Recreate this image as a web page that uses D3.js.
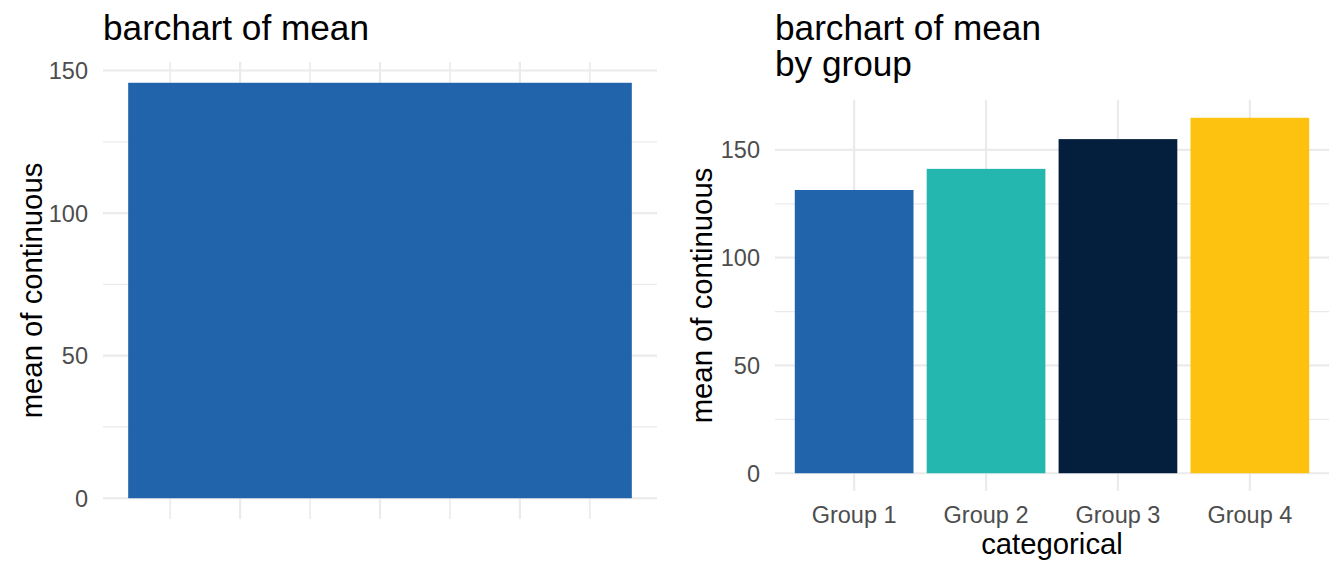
<!DOCTYPE html>
<html>
<head>
<meta charset="utf-8">
<script src="https://cdn.jsdelivr.net/npm/d3@7"></script>
<style>
  html, body { margin: 0; padding: 0; background: #ffffff; }
  svg { display: block; font-family: "Liberation Sans", Arial, Helvetica, sans-serif; }
</style>
</head>
<body>
<svg id="chart" width="1344" height="576"></svg>
<script>
// ---- data ----
const overallMean = [145.7];
const categories = ["Group 1", "Group 2", "Group 3", "Group 4"];
const groupMeans = [131.4, 141.2, 155.0, 164.9];
const groupColors = ["#2264AC", "#24B7AF", "#041F3D", "#FDC10F"];
const overallColor = "#2264AC";
const yTicks = [0, 50, 100, 150];
const yMinorTicks = [25, 75, 125];
const leftXMajor = [-0.25, 0, 0.25];
const leftXMinor = [-0.375, -0.125, 0.125, 0.375];

const svg = d3.select("#chart");
const gridCol = "#EBEBEB";
const tickCol = "#4D4D4D";

function expandDomain(lo, hi) {
  const r = hi - lo;
  return [lo - 0.05 * r, hi + 0.05 * r];
}

// ---------- LEFT PANEL ----------
{
  const L = 103, R = 657, T = 62, B = 519;
  const x = d3.scaleLinear().domain(expandDomain(-0.45, 0.45)).range([L, R]);
  const y = d3.scaleLinear().domain(expandDomain(0, overallMean[0])).range([B, T]);
  const g = svg.append("g");

  // minor grid
  g.selectAll("line.hmin").data(yMinorTicks).join("line")
    .attr("x1", L).attr("x2", R).attr("y1", d => y(d)).attr("y2", d => y(d))
    .attr("stroke", gridCol).attr("stroke-width", 1.2);
  g.selectAll("line.vmin").data(leftXMinor).join("line")
    .attr("y1", T).attr("y2", B).attr("x1", d => x(d)).attr("x2", d => x(d))
    .attr("stroke", gridCol).attr("stroke-width", 1.6);
  // major grid
  g.selectAll("line.hmaj").data(yTicks).join("line")
    .attr("x1", L).attr("x2", R).attr("y1", d => y(d)).attr("y2", d => y(d))
    .attr("stroke", gridCol).attr("stroke-width", 2.2);
  g.selectAll("line.vmaj").data(leftXMajor).join("line")
    .attr("y1", T).attr("y2", B).attr("x1", d => x(d)).attr("x2", d => x(d))
    .attr("stroke", gridCol).attr("stroke-width", 2.2);

  // bar
  g.selectAll("rect.bar").data(overallMean).join("rect")
    .attr("x", x(-0.45)).attr("width", x(0.45) - x(-0.45))
    .attr("y", d => y(d)).attr("height", d => y(0) - y(d))
    .attr("fill", overallColor);

  // y tick labels
  g.selectAll("text.yt").data(yTicks).join("text")
    .attr("x", L - 15).attr("y", d => y(d)).attr("dy", "0.36em")
    .attr("text-anchor", "end").attr("fill", tickCol)
    .style("font-size", "23.5px").text(d => d);

  // y axis title
  g.append("text")
    .attr("transform", `translate(42,${(T + B) / 2}) rotate(-90)`)
    .attr("text-anchor", "middle").attr("fill", "#000")
    .style("font-size", "29.3px").text("mean of continuous");

  // title
  g.append("text").attr("x", L).attr("y", 40)
    .attr("fill", "#000").style("font-size", "35.2px").text("barchart of mean");
}

// ---------- RIGHT PANEL ----------
{
  const L = 775, R = 1329, T = 100, B = 491;
  const n = categories.length;
  const xc = d3.scaleLinear().domain([0.4, n + 0.6]).range([L, R]);
  const x = d3.scaleBand().domain(categories).range([xc(0.5), xc(n + 0.5)]).paddingInner(0.1).paddingOuter(0.05);
  const y = d3.scaleLinear().domain(expandDomain(0, d3.max(groupMeans))).range([B, T]);
  const g = svg.append("g");

  g.selectAll("line.hmin").data(yMinorTicks).join("line")
    .attr("x1", L).attr("x2", R).attr("y1", d => y(d)).attr("y2", d => y(d))
    .attr("stroke", gridCol).attr("stroke-width", 1.2);
  g.selectAll("line.hmaj").data(yTicks).join("line")
    .attr("x1", L).attr("x2", R).attr("y1", d => y(d)).attr("y2", d => y(d))
    .attr("stroke", gridCol).attr("stroke-width", 2.2);
  g.selectAll("line.vmaj").data(categories).join("line")
    .attr("y1", T).attr("y2", B)
    .attr("x1", d => x(d) + x.bandwidth() / 2).attr("x2", d => x(d) + x.bandwidth() / 2)
    .attr("stroke", gridCol).attr("stroke-width", 2.2);

  const data = categories.map((c, i) => ({ c, v: groupMeans[i], col: groupColors[i] }));
  g.selectAll("rect.bar").data(data).join("rect")
    .attr("x", d => x(d.c)).attr("width", x.bandwidth())
    .attr("y", d => y(d.v)).attr("height", d => y(0) - y(d.v))
    .attr("fill", d => d.col);

  g.selectAll("text.yt").data(yTicks).join("text")
    .attr("x", L - 15).attr("y", d => y(d)).attr("dy", "0.36em")
    .attr("text-anchor", "end").attr("fill", tickCol)
    .style("font-size", "23.5px").text(d => d);

  g.selectAll("text.xt").data(categories).join("text")
    .attr("x", d => x(d) + x.bandwidth() / 2).attr("y", 523)
    .attr("text-anchor", "middle").attr("fill", tickCol)
    .style("font-size", "23.5px").text(d => d);

  g.append("text").attr("x", (L + R) / 2).attr("y", 554)
    .attr("text-anchor", "middle").attr("fill", "#000")
    .style("font-size", "29.3px").text("categorical");

  g.append("text")
    .attr("transform", `translate(712,${(T + B) / 2}) rotate(-90)`)
    .attr("text-anchor", "middle").attr("fill", "#000")
    .style("font-size", "29.3px").text("mean of continuous");

  const title = g.append("text").attr("x", L).attr("y", 40)
    .attr("fill", "#000").style("font-size", "35.2px");
  title.append("tspan").attr("x", L).attr("y", 40).text("barchart of mean");
  title.append("tspan").attr("x", L).attr("y", 76).text("by group");
}
</script>
</body>
</html>
